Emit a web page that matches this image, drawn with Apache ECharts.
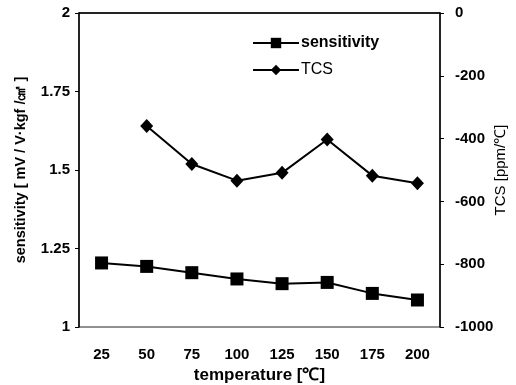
<html lang="en">
<head>
    <meta charset="UTF-8">
    <title>sensitivity and TCS vs temperature</title>
    <script src="https://cdn.jsdelivr.net/npm/echarts@6/dist/echarts.min.js"></script>
</head>
<style>
    body { margin: 0; background: #fff; }
    #Chart1 { width: 516px; height: 385px; }
</style>
<body>
    <div id="Chart1"></div>
</body>
<script>

// data
let temperatures = ['25', '50', '75', '100', '125', '150', '175', '200'];
let sensitivity = [1.204, 1.193, 1.173, 1.153, 1.138, 1.142, 1.107, 1.086];
let tcs = [null, -360, -481, -534, -509, -403, -518, -542];

let fontMain = 'Liberation Sans, Arial, sans-serif';

let myChart1 = echarts.init(document.getElementById('Chart1'));

let option = {
    backgroundColor: '#ffffff',
    animation: false,
    grid: {
        left: 79,
        right: 76,
        top: 13,
        bottom: 58,
        outerBoundsMode: 'none',
        show: true,
        borderColor: '#222',
        borderWidth: 1
    },
    legend: {
        left: 247,
        top: 30,
        orient: 'vertical',
        itemGap: 11,
        itemWidth: 46,
        itemHeight: 13,
        data: [
            { name: 'sensitivity', textStyle: { fontWeight: 'bold' } },
            { name: 'TCS', textStyle: { fontWeight: 'normal' } }
        ],
        textStyle: { fontFamily: fontMain, fontSize: 16, color: '#000', padding: [0, 0, 0, -3] }
    },
    xAxis: {
        type: 'category',
        data: temperatures,
        boundaryGap: true,
        name: 'temperature [\u2103]',
        nameLocation: 'middle',
        nameGap: 36,
        nameTextStyle: { fontFamily: fontMain, fontSize: 17, fontWeight: 'bold', color: '#000' },
        axisLine: { lineStyle: { color: '#000', width: 1.5 } },
        axisTick: { inside: true, length: 4, lineStyle: { color: '#000' } },
        axisLabel: { margin: 20, fontFamily: fontMain, fontSize: 15, fontWeight: 'bold', color: '#000' },
        splitLine: { show: false }
    },
    yAxis: [
        {
            type: 'value',
            min: 1,
            max: 2,
            interval: 0.25,
            name: 'sensitivity [ mV / V\u00b7kgf /\u33a0 ]',
            nameLocation: 'middle',
            nameRotate: 90,
            nameGap: 51,
            nameTextStyle: { fontFamily: fontMain, fontSize: 14.5, fontWeight: 'bold', color: '#000' },
            axisLine: { show: true, lineStyle: { color: '#000', width: 1.5 } },
            axisTick: { show: true, length: 4, lineStyle: { color: '#000' } },
            axisLabel: { margin: 9, fontFamily: fontMain, fontSize: 15, fontWeight: 'bold', color: '#000' },
            splitLine: { show: false }
        },
        {
            type: 'value',
            min: -1000,
            max: 0,
            interval: 200,
            position: 'right',
            name: 'TCS [ppm/\u2103]',
            nameLocation: 'middle',
            nameRotate: 90,
            nameGap: 53,
            nameMoveOverlap: false,
            nameTextStyle: { fontFamily: fontMain, fontSize: 15, color: '#000' },
            axisLine: { show: true, lineStyle: { color: '#000', width: 1.5 } },
            axisTick: { show: true, length: 4, lineStyle: { color: '#000' } },
            axisLabel: {
                margin: 15,
                fontFamily: fontMain, fontSize: 15, fontWeight: 'bold', color: '#000',
                formatter: function (v) { return String(v); }
            },
            splitLine: { show: false }
        }
    ],
    series: [
        {
            name: 'sensitivity',
            type: 'line',
            yAxisIndex: 0,
            data: sensitivity,
            symbol: 'rect',
            symbolSize: 13,
            itemStyle: { color: '#000' },
            lineStyle: { color: '#000', width: 2 }
        },
        {
            name: 'TCS',
            type: 'line',
            yAxisIndex: 1,
            data: tcs,
            symbol: 'diamond',
            symbolSize: [13, 14],
            itemStyle: { color: '#000' },
            lineStyle: { color: '#000', width: 2 }
        }
    ]
};

myChart1.setOption(option, true);

</script>
</html>
